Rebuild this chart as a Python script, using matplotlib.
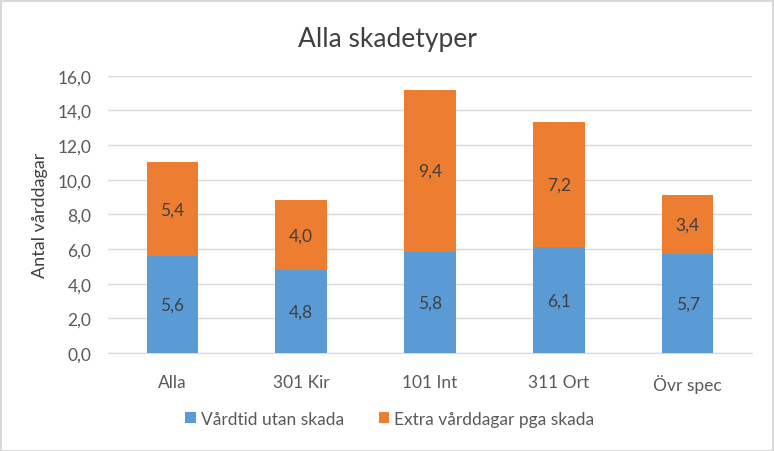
import matplotlib
matplotlib.use('Agg')
import matplotlib.pyplot as plt
import numpy as np

categories = ['Alla', '301 Kir', '101 Int', '311 Ort', 'Övr spec']
base_days = [5.6, 4.8, 5.8, 6.1, 5.7]
extra_days = [5.4, 4.0, 9.4, 7.2, 3.4]
series_names = ['Vårdtid utan skada', 'Extra vårddagar pga skada']

plt.rcParams['font.family'] = ['Lato', 'DejaVu Sans']

blue = '#5B9BD5'
orange = '#ED7D31'
txt = '#595959'

fig = plt.figure(figsize=(7.74, 4.52), dpi=100)
ax = fig.add_axes([108 / 774, 1 - 354 / 452, 644 / 774, (354 - 76.7) / 452])

x = np.arange(len(categories))
b1 = ax.bar(x, base_days, width=0.4, color=blue, label=series_names[0], zorder=3)
b2 = ax.bar(x, extra_days, width=0.4, bottom=base_days, color=orange,
            label=series_names[1], zorder=3)

for bars in (b1, b2):
    labels = [f'{v:.1f}'.replace('.', ',') for v in bars.datavalues]
    ax.bar_label(bars, labels=labels, label_type='center', color='#404040', fontsize=12.5)

ax.set_xlim(-0.5, len(categories) - 0.5)
ax.set_ylim(0, 16)
ax.set_yticks(np.arange(0, 17, 2))
ax.set_yticklabels([f'{v:.1f}'.replace('.', ',') for v in np.arange(0, 17, 2)])
ax.set_xticks(x)
ax.set_xticklabels(categories)
ax.tick_params(axis='both', length=0, colors=txt, labelsize=12.5)
ax.tick_params(axis='x', pad=15)
ax.tick_params(axis='y', pad=12)
ax.grid(axis='y', color='#D9D9D9', linewidth=1, zorder=0)
for s in ['top', 'right', 'left']:
    ax.spines[s].set_visible(False)
ax.spines['bottom'].set_color('#D9D9D9')

ax.set_ylabel('Antal vårddagar', color='#404040', fontsize=13, labelpad=7)
fig.text(387 / 774, 1 - 40 / 452, 'Alla skadetyper', ha='center', va='center',
         fontsize=19, color='#404040')

fig.legend(loc='center', bbox_to_anchor=(390 / 774, 1 - 420 / 452), ncol=2,
           frameon=False, fontsize=12.5, handlelength=0.6, handleheight=0.6,
           handletextpad=0.3, columnspacing=2.0, labelcolor=txt)

fig.patches.append(plt.Rectangle((0.5 / 774, 0.5 / 452), 772 / 774, 450 / 452,
                                 transform=fig.transFigure, fill=False,
                                 edgecolor='#D9D9D9', linewidth=1.5))

fig.savefig('out.png', dpi=100)
